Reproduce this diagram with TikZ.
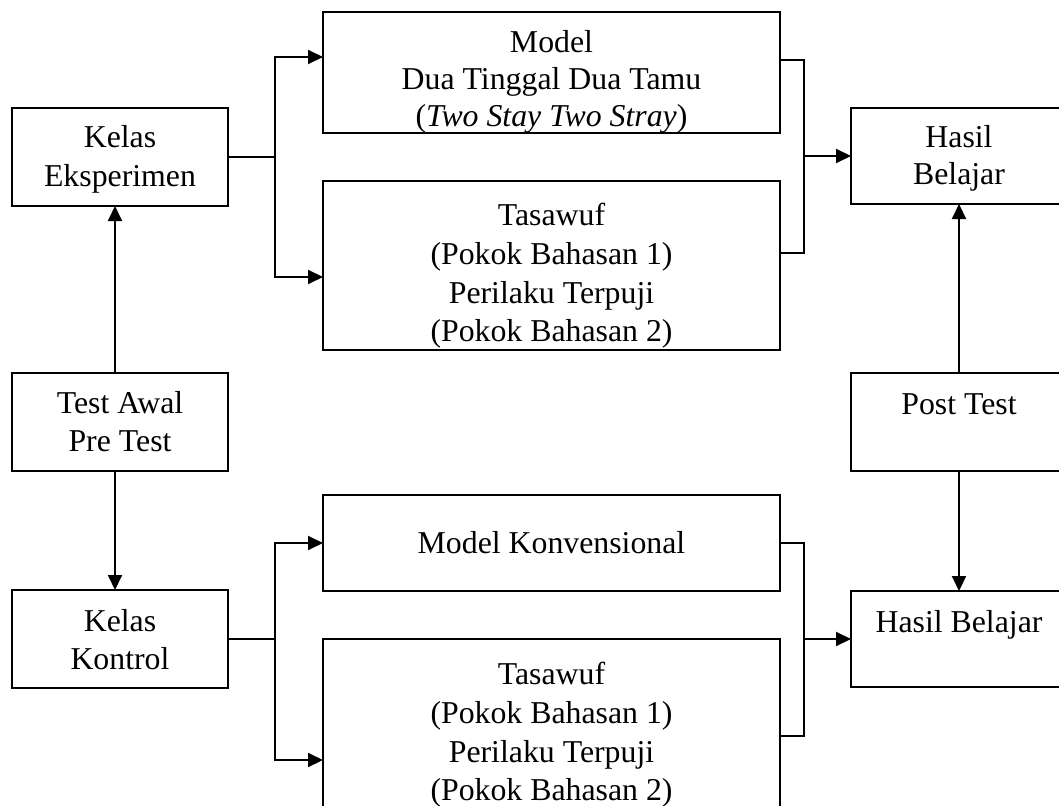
\documentclass[tikz,border=0pt]{standalone}
\usepackage{fontspec}
\setmainfont{Liberation Serif}
\usetikzlibrary{arrows.meta}
\tikzset{
  box/.style={draw, line width=2pt, inner sep=0pt, outer sep=0pt, anchor=north west},
  sbox/.style={box, minimum width=216pt, minimum height=98pt},
  wbox/.style={box, minimum width=457pt},
  txt/.style={anchor=base, inner sep=0pt, font=\fontsize{31.8pt}{38pt}\selectfont},
  link/.style={line width=2pt},
  arr/.style={link, -{Triangle[length=15pt,width=14pt]}},
}
\begin{document}
\begin{tikzpicture}[x=1pt,y=-1pt]
\useasboundingbox (0,0) rectangle (1059,805);
\fill[white] (0,0) rectangle (1059,805);
\clip (0,0) rectangle (1059,805);
% boxes
\node[sbox] (ke) at (12,108) {};
\node[sbox] (ta) at (12,373) {};
\node[sbox] (kk) at (12,590) {};
\node[wbox, minimum height=121pt] (m1) at (323,12) {};
\node[wbox, minimum height=169pt] (t1) at (323,181) {};
\node[wbox, minimum height=96pt] (mk) at (323,495) {};
\node[wbox, minimum height=169pt] (t2) at (323,639) {};
\node[sbox, minimum height=96pt] (hb1) at (851,108) {};
\node[sbox, minimum height=98pt] (pt) at (851,373) {};
\node[sbox, minimum height=96pt] (hb2) at (851,591) {};
% texts
\node[txt] (ke1) at (120,148) {Kelas};
\node[txt] (ke2) at (120,186) {Eksperimen};
\node[txt] (ta1) at (120,413) {Test Awal};
\node[txt] (ta2) at (120,451) {Pre Test};
\node[txt] (kk1) at (120,631) {Kelas};
\node[txt] (kk2) at (120,669) {Kontrol};
\node[txt] (m1a) at (551.5,53) {Model};
\node[txt] (m1b) at (551.5,90) {Dua Tinggal Dua Tamu};
\node[txt] (m1c) at (551.5,127) {(\textit{Two Stay Two Stray})};
\node[txt] (t1a) at (551.5,225) {Tasawuf};
\node[txt] (t1b) at (551.5,264) {(Pokok Bahasan 1)};
\node[txt] (t1c) at (551.5,303) {Perilaku Terpuji};
\node[txt] (t1d) at (551.5,341) {(Pokok Bahasan 2)};
\node[txt] (mka) at (551.5,553) {Model Konvensional};
\node[txt] (t2a) at (551.5,684) {Tasawuf};
\node[txt] (t2b) at (551.5,723) {(Pokok Bahasan 1)};
\node[txt] (t2c) at (551.5,762) {Perilaku Terpuji};
\node[txt] (t2d) at (551.5,800) {(Pokok Bahasan 2)};
\node[txt] (hb1a) at (959,148) {Hasil};
\node[txt] (hb1b) at (959,185) {Belajar};
\node[txt] (pta) at (959,414) {Post Test};
\node[txt] (hb2a) at (959,632) {Hasil Belajar};
% top forks
\coordinate (jl1) at (275,157);
\draw[link] (ke.east) -- (jl1);
\draw[arr] (jl1) |- ([yshift=15.5pt]m1.west);
\draw[arr] (jl1) |- ([yshift=-11.5pt]t1.west);
\coordinate (jr1) at (804,156);
\draw[link] ([yshift=12.5pt]m1.east) -| (jr1);
\draw[link] ([yshift=12.5pt]t1.east) -| (jr1);
\draw[arr] (jr1) -- (hb1.west);
% vertical arrows
\draw[arr] ([xshift=-5pt]ta.north) -- ([xshift=-5pt]ke.south);
\draw[arr] ([xshift=-5pt]ta.south) -- ([xshift=-5pt]kk.north);
\draw[arr] (pt.north) -- (hb1.south);
\draw[arr] (pt.south) -- (hb2.north);
% bottom forks
\coordinate (jl2) at (275,639);
\draw[link] (kk.east) -- (jl2);
\draw[arr] (jl2) |- (mk.west);
\draw[arr] (jl2) |- ([yshift=-36.5pt]t2.west);
\coordinate (jr2) at (804,639);
\draw[link] (mk.east) -| (jr2);
\draw[link] ([yshift=-12.5pt]t2.east) -| (jr2);
\draw[arr] (jr2) -- (hb2.west);
\end{tikzpicture}
\end{document}
